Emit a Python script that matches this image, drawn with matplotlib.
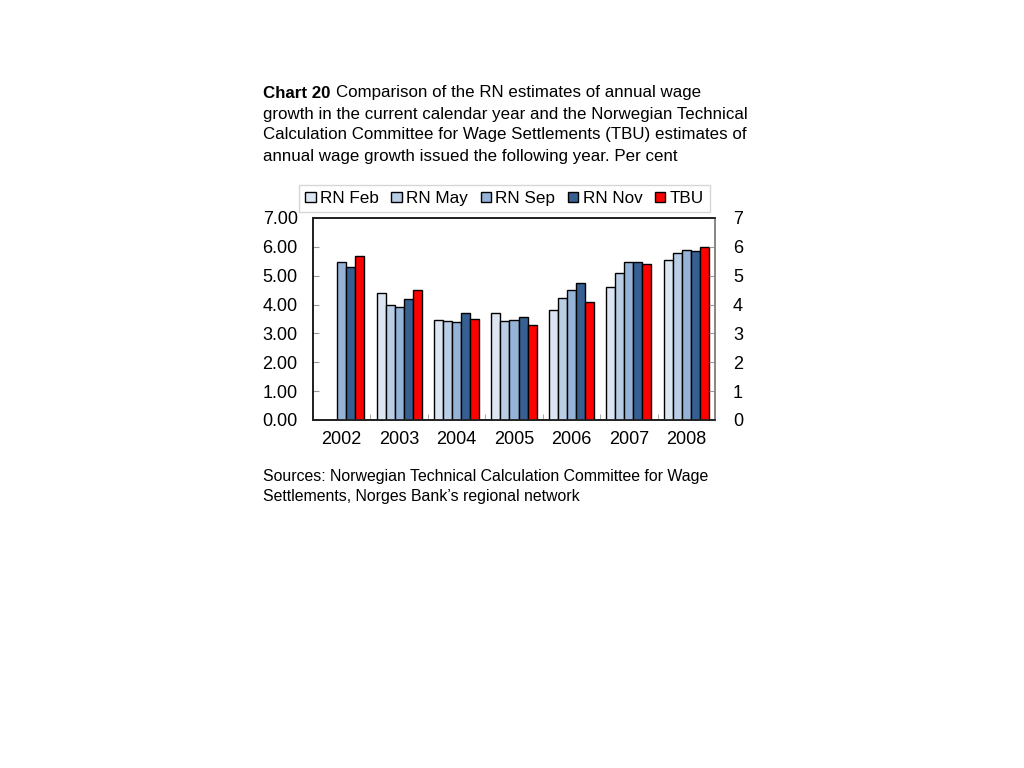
import numpy as np
import matplotlib.pyplot as plt
from matplotlib.ticker import FixedLocator

plt.rcParams['font.family'] = ['Liberation Sans', 'DejaVu Sans']

years = ['2002', '2003', '2004', '2005', '2006', '2007', '2008']
rn_feb = [np.nan, 4.40, 3.46, 3.70, 3.81, 4.60, 5.53]
rn_may = [np.nan, 3.98, 3.42, 3.42, 4.22, 5.10, 5.77]
rn_sep = [5.47, 3.91, 3.40, 3.48, 4.50, 5.47, 5.88]
rn_nov = [5.30, 4.19, 3.70, 3.56, 4.74, 5.47, 5.87]
tbu = [5.67, 4.50, 3.49, 3.29, 4.08, 5.39, 5.99]

series = [('RN Feb', rn_feb, '#dce6f2'),
          ('RN May', rn_may, '#b9cde5'),
          ('RN Sep', rn_sep, '#95b3d7'),
          ('RN Nov', rn_nov, '#366092'),
          ('TBU', tbu, '#ff0000')]

fig = plt.figure(figsize=(10.24, 7.68), dpi=100)
ax = fig.add_axes([313/1024, 1 - 420/768, 402/1024, 202/768])

x = np.arange(len(years))
w = 0.157
for i, (name, vals, col) in enumerate(series):
    ax.bar(x + (i - 2) * w, vals, w, color=col, edgecolor='black',
           linewidth=1.0, label=name, zorder=3)

ax.set_xlim(-0.5, len(years) - 0.5)
ax.set_ylim(0, 7)
ax.set_yticks(np.arange(0, 8))
ax.set_yticklabels(['%.2f' % v for v in range(8)], fontsize=13)
ax.set_xticks(x)
ax.set_xticklabels(years, fontsize=13)
ax.xaxis.set_minor_locator(FixedLocator(np.arange(0.5, len(years) - 1, 1)))
ax.tick_params(axis='x', which='major', length=0, pad=8)
ax.tick_params(axis='x', which='minor', direction='in', length=4, color='#999999')
ax.tick_params(axis='y', direction='in', length=4, color='#999999', pad=11)

ax2 = ax.twinx()
ax2.set_ylim(0, 7)
ax2.set_yticks(np.arange(0, 8))
ax2.set_yticklabels([str(v) for v in range(8)], fontsize=13)
ax2.tick_params(axis='y', direction='in', length=4, color='#999999', pad=13)

for a in (ax, ax2):
    for s in ('left', 'bottom', 'top'):
        a.spines[s].set_color('#222222')
        a.spines[s].set_linewidth(1.3)
    a.spines['right'].set_color('#888888')
    a.spines['right'].set_linewidth(1.3)

handles, labels = ax.get_legend_handles_labels()
leg = fig.legend(handles, labels, loc='center', ncol=5,
                 bbox_to_anchor=(504.5/1024, 1 - 198.5/768),
                 fontsize=12.3, frameon=True, fancybox=False,
                 handlelength=0.6, handleheight=0.6, handletextpad=0.25,
                 columnspacing=0.75, borderpad=0.35, borderaxespad=0)
leg.get_frame().set_edgecolor('#cccccc')
leg.get_frame().set_linewidth(1.0)
leg.set_zorder(5)

fs = 12.2
fig.text(263/1024, 1 - 93/768, 'Chart 20', fontsize=fs, fontweight='bold', va='center')
fig.text(336/1024, 1 - 93/768, 'Comparison of the RN estimates of annual wage',
         fontsize=fs, va='center')
title_lines = ['growth in the current calendar year and the Norwegian Technical',
               'Calculation Committee for Wage Settlements (TBU) estimates of',
               'annual wage growth issued the following year. Per cent']
for k, line in enumerate(title_lines):
    fig.text(263/1024, 1 - (114 + 21 * k)/768, line, fontsize=fs, va='center')

fig.text(263/1024, 1 - 477/768, 'Sources: Norwegian Technical Calculation Committee for Wage',
         fontsize=11.4, va='center')
fig.text(263/1024, 1 - 496/768, 'Settlements, Norges Bank\u2019s regional network',
         fontsize=11.4, va='center')

fig.savefig('out.png', dpi=100)
